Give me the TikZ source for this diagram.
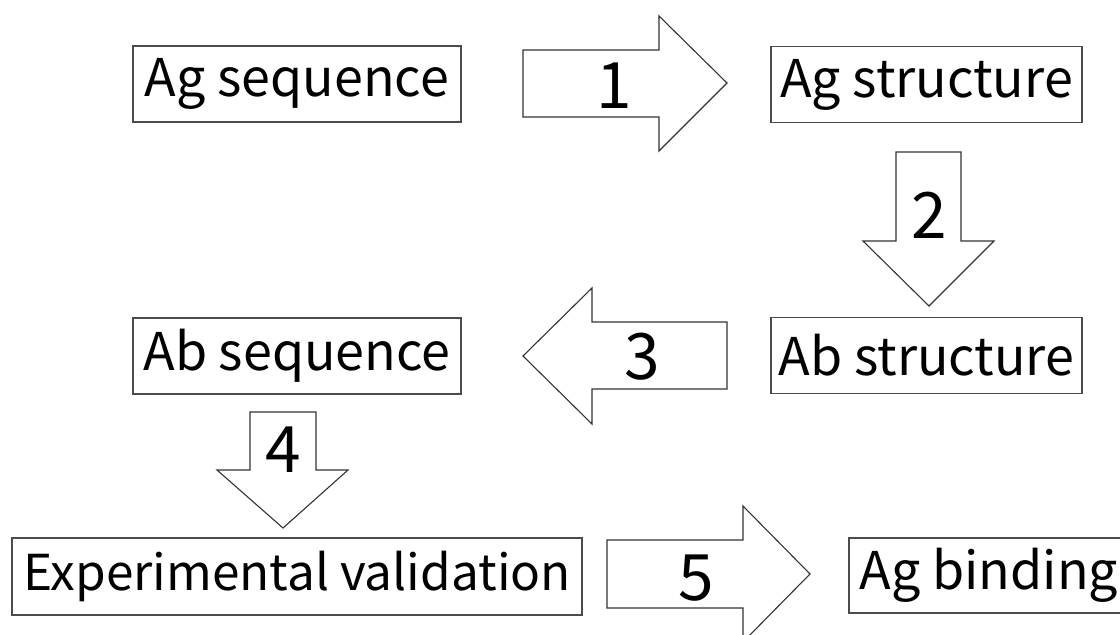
\documentclass[tikz,border=0pt]{standalone}
\usepackage{fontspec}
\setmainfont{Noto Sans CJK SC}
\begin{document}
\begin{tikzpicture}[x=1pt,y=-1pt,
  boxnode/.style={draw=black!70,line width=1.3pt,inner sep=0pt,minimum height=76pt,
    font=\fontsize{52}{60}\selectfont,text=black},
  blockarrow/.style={draw=black!80,line width=1.1pt,fill=white,line join=miter},
  numlabel/.style={font=\fontsize{64}{70}\selectfont,inner sep=0pt,text=black}]
\useasboundingbox (0,0) rectangle (1120,635);
\clip (0,0) rectangle (1120,635);
% boxes
\node[boxnode,minimum width=328pt] (agseq) at (297,84) {Ag sequence};
\node[boxnode,minimum width=311pt] (agstr) at (926.5,84.5) {Ag structure};
\node[boxnode,minimum width=311pt] (abstr) at (926.5,355.5) {Ab structure};
\node[boxnode,minimum width=328pt] (abseq) at (297,356) {Ab sequence};
\node[boxnode,minimum width=570pt,minimum height=77pt,font=\fontsize{49.5}{60}\selectfont] (expval) at (297,576.5) {Experimental validation};
\node[boxnode,minimum width=280pt,minimum height=75pt] (agbind) at (989,575.5) {Ag binding};
% arrow 1 (right)
\draw[blockarrow] (523,50) -- (659,50) -- (659,16) -- (727,83) -- (659,151) -- (659,117) -- (523,117) -- cycle;
\node[numlabel] (n1) at (614,86) {1};
% arrow 2 (down)
\draw[blockarrow] (896,152) -- (961,152) -- (961,241) -- (994,241) -- (929,306) -- (863,241) -- (896,241) -- cycle;
\node[numlabel] (n2) at (929,215) {2};
% arrow 3 (left)
\draw[blockarrow] (727,322) -- (592,322) -- (592,288) -- (523,356) -- (592,424) -- (592,389) -- (727,389) -- cycle;
\node[numlabel] (n3) at (642,357) {3};
% arrow 4 (down)
\draw[blockarrow] (250,412) -- (316,412) -- (316,470) -- (348,470) -- (283,528) -- (217,470) -- (250,470) -- cycle;
\node[numlabel] (n4) at (283,450) {4};
% arrow 5 (right)
\draw[blockarrow] (607,540) -- (743,540) -- (743,506) -- (810,574) -- (743,642) -- (743,608) -- (607,608) -- cycle;
\node[numlabel] (n5) at (696,578) {5};
\end{tikzpicture}
\end{document}
